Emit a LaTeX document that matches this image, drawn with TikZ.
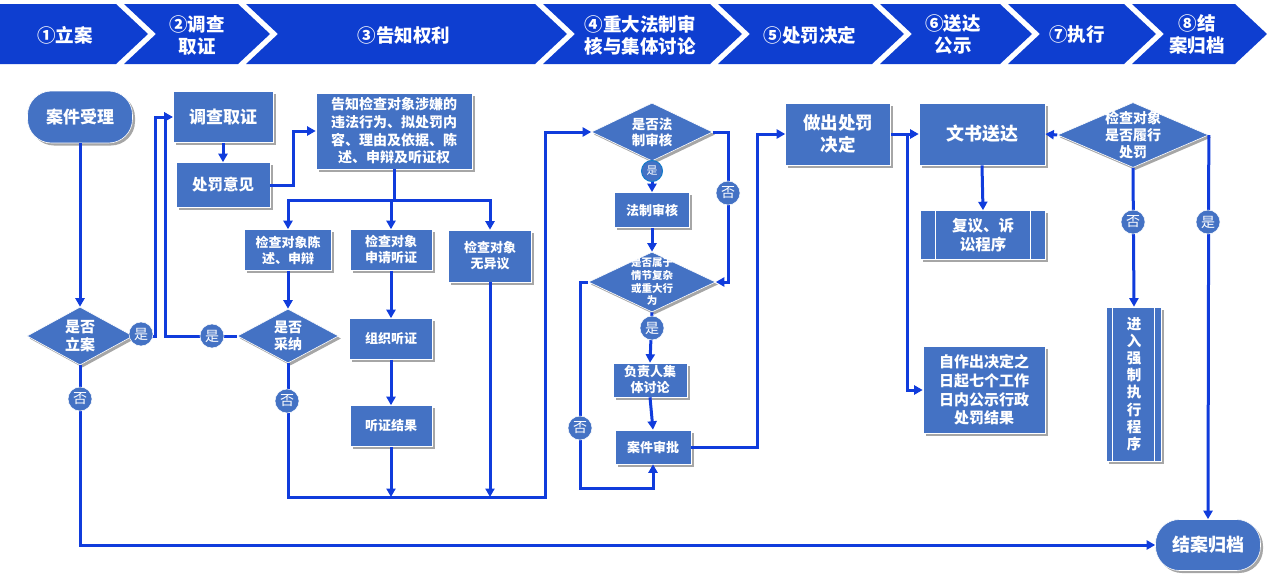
\documentclass[tikz,border=0pt]{standalone}
\usepackage{fontspec}
\setmainfont{Noto Sans CJK SC}
\usetikzlibrary{arrows.meta,shapes.geometric,shadows,calc}
\definecolor{hdr}{RGB}{14,62,208}
\definecolor{nb}{RGB}{68,114,196}
\definecolor{ln}{RGB}{16,60,220}
\newcommand\myfs[2]{\fontsize{#1}{#2}\selectfont}
\begin{document}
\begin{tikzpicture}[x=1pt,y=-1pt,
  shd/.style={drop shadow={shadow xshift=2.5pt,shadow yshift=-2.5pt,opacity=0.35,fill=black}},
  box/.style={rectangle, fill=nb, draw=white, line width=0.6pt, text=white, align=center, inner sep=0pt, shd},
  dia/.style={diamond, fill=nb, draw=white, line width=0.6pt, inner sep=0pt, shd},
  dl/.style={text=white, align=center, inner sep=0pt},
  yn/.style={circle, fill=nb, draw=white, line width=0.5pt, minimum size=24pt, inner sep=0pt, text=white, font=\myfs{14}{14}},
  hd/.style={text=white, align=center, font=\bfseries\myfs{18.5}{22}},
  conn/.style={draw=ln, line width=3pt},
  arr/.style={conn, -{Triangle[length=8.5pt,width=9pt]}}
]
\useasboundingbox[fill=white] (0,0) rectangle (1267,581);
% header chevrons
\fill[hdr] (0,4) -- (116,4) -- (148,34) -- (116,64) -- (0,64) -- cycle;
\fill[hdr] (124,4) -- (238,4) -- (270,34) -- (238,64) -- (124,64) -- (156,34) -- cycle;
\fill[hdr] (246,4) -- (535,4) -- (567,34) -- (535,64) -- (246,64) -- (278,34) -- cycle;
\fill[hdr] (543,4) -- (710,4) -- (742,34) -- (710,64) -- (543,64) -- (575,34) -- cycle;
\fill[hdr] (718,4) -- (872,4) -- (904,34) -- (872,64) -- (718,64) -- (750,34) -- cycle;
\fill[hdr] (880,4) -- (1000,4) -- (1032,34) -- (1000,64) -- (880,64) -- (912,34) -- cycle;
\fill[hdr] (1008,4) -- (1124,4) -- (1156,34) -- (1124,64) -- (1008,64) -- (1040,34) -- cycle;
\fill[hdr] (1132,4) -- (1235,4) -- (1267,34) -- (1235,64) -- (1132,64) -- (1164,34) -- cycle;
\node[hd] (h1) at (65,35) {①立案};
\node[hd] (h2) at (197,35) {②调查\\取证};
\node[hd] (h3) at (404,35) {③告知权利};
\node[hd] (h4) at (640,35) {④重大法制审\\核与集体讨论};
\node[hd] (h5) at (810,35) {⑤处罚决定};
\node[hd] (h6) at (953,35) {⑥送达\\公示};
\node[hd] (h7) at (1077,35) {⑦执行};
\node[hd] (h8) at (1197,35) {⑧结\\案归档};

% nodes
\node[box, rounded corners=24pt, minimum width=105pt, minimum height=52pt, font=\bfseries\myfs{17}{20}] (accept) at (80,117) {案件受理};
\node[box, minimum width=100pt, minimum height=51pt, font=\bfseries\myfs{17}{20}] (inv) at (223,117) {调查取证};
\node[box, minimum width=94pt, minimum height=45pt, font=\bfseries\myfs{15.5}{18}] (opin) at (223,185) {处罚意见};
\node[box, minimum width=156pt, minimum height=76pt, font=\bfseries\myfs{14}{17.6}] (notice) at (394,131) {告知检查对象涉嫌的\\违法行为、拟处罚内\\容、理由及依据、陈\\述、申辩及听证权};
\node[box, minimum width=87pt, minimum height=41pt, font=\bfseries\myfs{13}{16}] (s1) at (288,250) {检查对象陈\\述、申辩};
\node[box, minimum width=82pt, minimum height=41pt, font=\bfseries\myfs{13}{16}] (s2) at (391,250) {检查对象\\申请听证};
\node[box, minimum width=83pt, minimum height=52pt, font=\bfseries\myfs{13}{16}] (s3) at (490,256) {检查对象\\无异议};
\node[box, minimum width=83pt, minimum height=41pt, font=\bfseries\myfs{13}{16}] (org) at (391,339) {组织听证};
\node[box, minimum width=82pt, minimum height=41pt, font=\bfseries\myfs{13}{16}] (res) at (391,426) {听证结果};
\node[dia, minimum width=106pt, minimum height=58pt, label={[dl, font=\bfseries\myfs{15}{18}]center:{是否\\立案}}] (d1) at (80,336) {};
\node[dia, minimum width=101pt, minimum height=54pt, label={[dl, font=\bfseries\myfs{14}{17}]center:{是否\\采纳}}] (d2) at (288,336) {};
\node[dia, minimum width=121pt, minimum height=58pt, label={[dl, font=\bfseries\myfs{13.5}{16}]center:{是否法\\制审核}}] (d3) at (652,132) {};
\node[box, minimum width=75pt, minimum height=35pt, font=\bfseries\myfs{13}{16}] (lawrev) at (652,210) {法制审核};
\node[dia, minimum width=127pt, minimum height=60pt, label={[dl, font=\bfseries\myfs{10.5}{12.7}]center:{是否属于\\情节复杂\\或重大行\\为}}] (d4) at (652,282) {};
\node[box, minimum width=74pt, minimum height=34pt, font=\bfseries\myfs{13}{16}] (disc) at (650,380) {负责人集\\体讨论};
\node[box, minimum width=76pt, minimum height=34pt, font=\bfseries\myfs{13}{16}] (appr) at (653,447) {案件审批};
\node[box, minimum width=105pt, minimum height=62pt, font=\bfseries\myfs{17.5}{22}] (dec) at (838,134) {做出处罚\\决定};
\node[box, minimum width=126pt, minimum height=62pt, font=\bfseries\myfs{18}{22}] (deliv) at (982,134) {文书送达};
\node[dia, minimum width=151pt, minimum height=65pt, label={[dl, font=\bfseries\myfs{14}{17}]center:{检查对象\\是否履行\\处罚}}] (d5) at (1133,135) {};
\node[box, minimum width=125pt, minimum height=49pt, font=\bfseries\myfs{15.5}{19}] (recon) at (983,235) {复议、诉\\讼程序};
\draw[white, line width=0.8pt] ([xshift=15pt]recon.north west) -- ([xshift=15pt]recon.south west);
\draw[white, line width=0.8pt] ([xshift=-15pt]recon.north east) -- ([xshift=-15pt]recon.south east);
\node[box, minimum width=122pt, minimum height=87pt, font=\bfseries\myfs{15}{18.7}] (pub) at (984,390) {自作出决定之\\日起七个工作\\日内公示行政\\处罚结果};
\node[box, minimum width=55pt, minimum height=154pt, font=\bfseries\myfs{14.5}{17.1}] (enf) at (1134,384) {进\\入\\强\\制\\执\\行\\程\\序};
\draw[white, line width=0.8pt] ([xshift=6pt]enf.north west) -- ([xshift=6pt]enf.south west);
\draw[white, line width=0.8pt] ([xshift=-7pt]enf.north east) -- ([xshift=-7pt]enf.south east);
\node[box, rounded corners=24pt, minimum width=105pt, minimum height=51pt, font=\bfseries\myfs{18}{20}] (close) at (1208,545) {结案归档};

% junction coordinates
\coordinate (j1) at (155,336);
\coordinate (j2) at (165,336);
\coordinate (j3) at (293,150);
\coordinate (split) at (394,200);
\coordinate (bl) at (545,497);
\coordinate (j5) at (728,200);
\coordinate (j6) at (580,488);
\coordinate (j8) at (757,300);
\coordinate (j9) at (907,134);

% connectors
\draw[arr] (accept.south) -- (d1.north);
\draw[arr] (d1.east) -- (j1) |- (inv.west);
\draw[arr] (d2.west) -- (j2) |- (inv.west);
\draw[arr] (inv.south) -- (opin.north);
\draw[arr] (opin.east) -- (opin.east -| j3) |- (notice.west);
\draw[conn] (notice.south) -- (split);
\draw[arr] (split) -| (s1.north);
\draw[arr] (split) -| (s2.north);
\draw[arr] (split) -| (s3.north);
\draw[arr] (s1.south) -- (d2.north);
\draw[arr] (s2.south) -- (org.north);
\draw[arr] (org.south) -- (res.north);
\draw[arr] (d2.south) |- (bl) |- (d3.west);
\draw[arr] (res.south) -- (res.south |- bl);
\draw[arr] (s3.south) -- (s3.south |- bl);
\draw[arr] (d3.south) -- (lawrev.north);
\draw[arr] (lawrev.south) -- (d4.north);
\draw[arr] (d3.east) -- (d3.east -| j5) |- (d4.east);
\draw[arr] (d4.south) -- (disc.north);
\draw[arr] (disc.south) -- (appr.north);
\draw[arr] (d4.west) -| (j6) -| (appr.south);
\draw[arr] (appr.east) -- (appr.east -| j8) |- (dec.west);
\draw[arr] (dec.east) -- (deliv.west);
\draw[arr] (j9) |- (pub.west);
\draw[arr] (deliv.south) -- (recon.north);
\draw[arr] (d5.west) -- (deliv.east);
\draw[arr] (d5.south) -- (enf.north);
\draw[arr] (d5.east) -- (close.north);
\draw[arr] (d1.south) |- (close.west);

% yes/no markers
\node[yn] (y1) at (141,334) {是};
\node[yn] (y2) at (212,336) {是};
\node[yn] (n1) at (80,399) {否};
\node[yn] (n2) at (287,401) {否};
\node[yn, minimum size=21pt, draw=cyan!60!blue, line width=1pt, font=\myfs{11}{11}] (y3) at (652,171) {是};
\node[yn] (n3) at (728,193) {否};
\node[yn] (y4) at (652,328) {是};
\node[yn] (n4) at (580,428) {否};
\node[yn] (n5) at (1133,222) {否};
\node[yn] (y5) at (1208,222) {是};
\end{tikzpicture}
\end{document}
